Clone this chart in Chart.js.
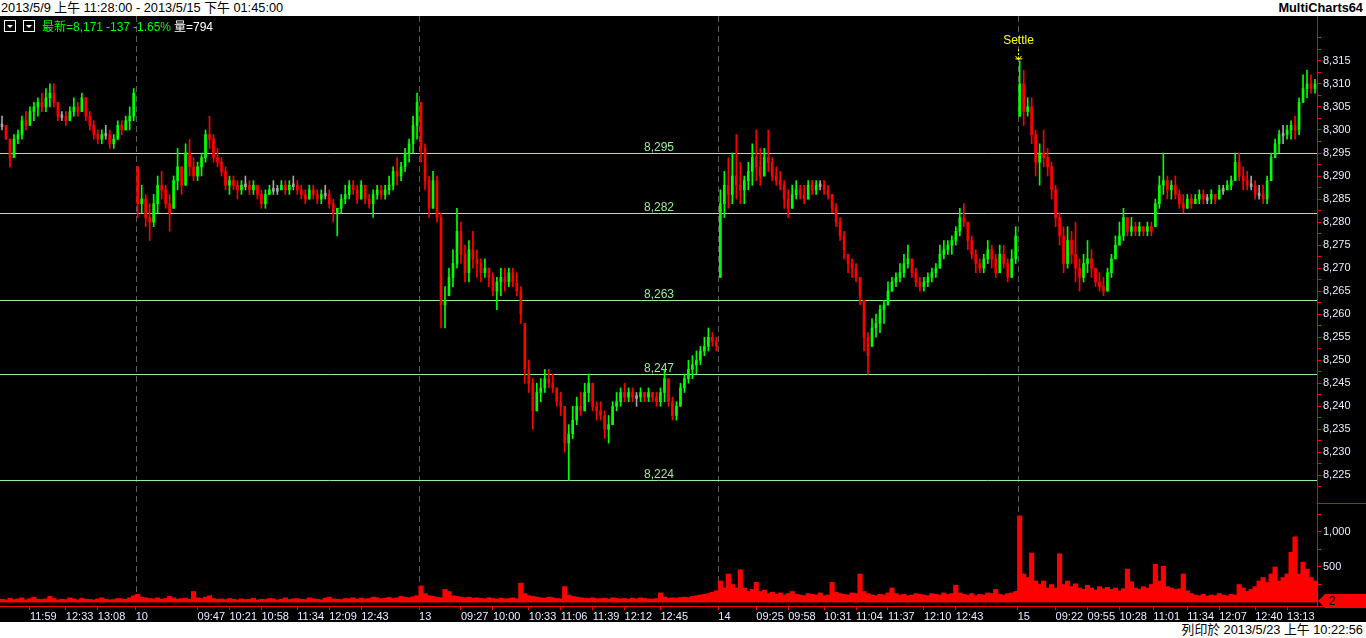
<!DOCTYPE html>
<html>
<head>
<meta charset="utf-8">
<title>MultiCharts64</title>
<script src="https://cdn.jsdelivr.net/npm/chart.js@4.4.1/dist/chart.umd.min.js"></script>
<style>
  html, body { margin: 0; padding: 0; width: 1366px; height: 638px; overflow: hidden; background: #fff;
    font-family: "Liberation Sans", "Noto Sans CJK TC", Arial, sans-serif; }
  #top { position: absolute; left: 0; top: 0; width: 1366px; height: 16px; font-size: 12.8px; line-height: 16px; color: #000; }
  #range { position: absolute; left: 1px; top: 0; white-space: nowrap; }
  #brand { position: absolute; right: 3px; top: 0; font-weight: bold; }
  #wrap { position: absolute; left: 0; top: 16px; width: 1366px; height: 606px; background: #000; }
  #wrap canvas { position: absolute; left: 0; top: 0; }
  .btn { position: absolute; top: 4px; width: 10px; height: 10px; border: 1px solid #fff; }
  .btn:after { content: ""; position: absolute; left: 2px; top: 4px; border-left: 3px solid transparent;
    border-right: 3px solid transparent; border-top: 3px solid #fff; }
  .info { position: absolute; top: 3px; font-size: 12px; line-height: 16px; white-space: nowrap; }
  #foot { position: absolute; right: 3px; top: 622px; font-size: 12.8px; line-height: 16px; color: #000; white-space: nowrap; }
</style>
</head>
<body>
<div id="top">
  <span id="range">2013/5/9 上午 11:28:00 - 2013/5/15 下午 01:45:00</span>
  <span id="brand">MultiCharts64</span>
</div>
<div id="wrap">
  <canvas id="chart" width="1366" height="606"></canvas>
  <div class="btn" style="left:4px"></div>
  <div class="btn" style="left:23px"></div>
  <span class="info" style="left:42px;color:#00ff00">最新=8,171</span>
  <span class="info" style="left:106px;color:#00ff00">-137</span>
  <span class="info" style="left:133px;color:#00ff00">-1.65%</span>
  <span class="info" style="left:174px;color:#fff">量=794</span>
</div>
<div id="foot">列印於 2013/5/23 上午 10:22:56</div>

<script>
// 4-minute bars, May 9 (afternoon) + May 10, 13, 14, 15
const hi = [
  8303,8301,8298,8299,8300,8303,8304,8305,8306,8307,8308,8309,8310,8310,8306,8304,8304,8305,8307,8306,8308,8307,8304,8302,8300,8300,8301,8300,8299,8302,8302,8303,8305,8309,
  8292,8288,8286,8284,8286,8290,8291,8288,8286,8290,8296,8292,8297,8298,8294,8293,8295,8300,8303,8299,8296,8294,8292,8290,8290,8289,8289,8290,8289,8289,8288,8287,8287,8288,8289,8288,8289,8289,8289,8290,8289,8288,8287,8288,8288,8287,8287,8288,8287,8285,8283,8286,8288,8289,8289,8288,8289,8288,8286,8287,8288,8288,8288,8290,8292,8294,8293,8296,8298,8303,8308,
  8306,8297,8290,8291,8290,8282,8266,8270,8274,8283,8280,8275,8276,8278,8274,8272,8272,8270,8269,8268,8270,8270,8270,8270,8269,8266,8258,8250,8246,8245,8246,8248,8248,8247,8244,8243,8240,8236,8240,8242,8243,8245,8247,8245,8241,8241,8239,8238,8241,8243,8244,8245,8244,8244,8243,8244,8243,8244,8243,8243,8244,8248,8246,8242,8241,8245,8247,8250,8251,8252,8253,8255,8257,8256,8255,
  8287,8291,8294,8295,8299,8293,8290,8293,8297,8300,8296,8296,8300,8294,8292,8291,8289,8287,8288,8289,8288,8288,8289,8289,8289,8289,8289,8288,8286,8284,8281,8278,8273,8272,8271,8268,8263,8256,8259,8260,8262,8263,8267,8268,8269,8271,8273,8275,8272,8270,8268,8268,8269,8270,8271,8275,8276,8276,8277,8279,8283,8284,8280,8277,8274,8272,8273,8276,8275,8273,8275,8275,8272,8274,8279,
  8315,8313,8307,8307,8300,8297,8300,8296,8293,8288,8282,8279,8279,8278,8280,8272,8273,8276,8274,8270,8269,8268,8270,8273,8277,8280,8283,8281,8281,8280,8280,8279,8280,8280,8285,8290,8295,8290,8289,8290,8287,8286,8286,8286,8286,8287,8287,8286,8287,8286,8288,8288,8289,8290,8295,8295,8292,8291,8290,8289,8288,8288,8290,8295,8298,8300,8301,8301,8302,8303,8307,8312,8313,8312,8311
];
const lo = [
  8300,8298,8292,8294,8297,8298,8300,8301,8302,8303,8304,8304,8305,8305,8302,8302,8301,8302,8303,8303,8304,8302,8300,8298,8297,8297,8298,8296,8296,8298,8299,8300,8300,8302,
  8281,8282,8279,8276,8279,8282,8285,8283,8278,8283,8287,8286,8288,8290,8289,8289,8290,8293,8296,8293,8292,8290,8287,8286,8287,8285,8286,8287,8286,8286,8285,8283,8283,8286,8286,8286,8287,8286,8286,8287,8286,8285,8284,8285,8285,8284,8284,8285,8283,8280,8277,8282,8284,8285,8286,8284,8285,8284,8283,8281,8285,8285,8285,8286,8287,8288,8289,8291,8293,8295,8298,
  8293,8287,8281,8283,8280,8257,8257,8264,8266,8270,8271,8267,8267,8270,8268,8267,8268,8266,8264,8261,8264,8265,8266,8266,8264,8258,8245,8243,8235,8239,8241,8243,8244,8243,8240,8238,8230,8224,8233,8236,8238,8239,8241,8239,8237,8237,8233,8232,8236,8239,8240,8241,8241,8241,8240,8241,8241,8241,8241,8240,8240,8241,8240,8237,8237,8240,8243,8245,8246,8247,8249,8251,8252,8253,8252,
  8268,8281,8283,8284,8285,8284,8284,8287,8288,8289,8288,8290,8291,8289,8288,8287,8283,8281,8283,8285,8285,8284,8285,8286,8286,8287,8286,8285,8282,8279,8276,8272,8269,8268,8267,8262,8252,8247,8253,8255,8256,8258,8262,8265,8266,8267,8268,8270,8268,8266,8265,8265,8266,8267,8268,8270,8272,8273,8273,8275,8277,8279,8274,8272,8269,8269,8269,8271,8270,8268,8269,8270,8267,8268,8271,
  8303,8301,8303,8297,8290,8288,8292,8290,8285,8279,8275,8269,8270,8271,8267,8265,8267,8269,8268,8266,8265,8264,8265,8268,8272,8275,8276,8277,8277,8277,8277,8277,8277,8277,8279,8283,8286,8285,8285,8285,8283,8282,8283,8283,8284,8284,8284,8284,8284,8284,8285,8286,8287,8287,8289,8289,8287,8287,8287,8285,8285,8284,8284,8289,8294,8295,8297,8298,8298,8298,8299,8306,8307,8308,8308
];
const cl = [
  8301,8298,8294,8298,8299,8302,8301,8304,8305,8306,8305,8307,8308,8306,8303,8303,8302,8304,8305,8304,8307,8303,8301,8299,8298,8299,8299,8297,8298,8301,8300,8302,8303,8308,
  8284,8285,8281,8280,8284,8288,8287,8284,8282,8289,8292,8288,8295,8292,8290,8292,8294,8299,8298,8294,8293,8291,8288,8289,8288,8287,8288,8288,8287,8288,8286,8284,8286,8287,8287,8287,8288,8287,8288,8288,8287,8286,8285,8287,8286,8285,8286,8286,8284,8282,8283,8285,8286,8288,8287,8285,8288,8285,8284,8286,8287,8286,8287,8288,8291,8290,8292,8295,8297,8301,8306,
  8296,8289,8283,8289,8281,8262,8263,8268,8271,8278,8273,8269,8274,8272,8271,8269,8270,8268,8265,8267,8268,8267,8269,8267,8265,8260,8248,8245,8239,8243,8244,8246,8245,8244,8241,8240,8232,8234,8237,8240,8239,8243,8245,8240,8239,8238,8235,8236,8240,8241,8243,8242,8243,8242,8242,8243,8242,8243,8242,8241,8243,8246,8241,8238,8240,8244,8246,8248,8249,8250,8252,8253,8255,8254,8253,
  8284,8288,8286,8290,8288,8287,8289,8291,8294,8292,8290,8294,8293,8290,8289,8288,8285,8283,8286,8287,8286,8285,8288,8287,8288,8288,8287,8286,8283,8280,8277,8274,8271,8270,8268,8264,8255,8251,8257,8258,8261,8262,8265,8267,8268,8269,8271,8272,8269,8267,8266,8267,8268,8269,8270,8273,8274,8275,8276,8278,8281,8280,8276,8273,8271,8270,8272,8274,8272,8269,8273,8271,8268,8272,8277,
  8310,8304,8305,8299,8293,8295,8294,8292,8287,8281,8277,8271,8276,8273,8270,8268,8271,8272,8270,8267,8266,8265,8269,8272,8275,8277,8281,8278,8279,8278,8279,8278,8279,8278,8284,8288,8289,8287,8288,8286,8284,8283,8285,8284,8285,8286,8285,8285,8286,8285,8287,8287,8288,8289,8293,8290,8289,8288,8288,8286,8286,8285,8289,8294,8297,8299,8299,8300,8301,8300,8306,8309,8310,8309,8310
];
const vol = [
  40,30,55,35,45,60,30,50,70,40,35,45,80,50,30,40,35,60,45,30,55,40,35,30,45,60,40,30,35,50,45,40,60,90,
  110,70,60,50,45,60,40,50,80,60,40,50,55,40,150,60,50,70,90,50,40,45,35,50,40,30,45,35,40,55,30,40,35,50,45,30,40,60,35,45,50,40,35,60,45,40,30,55,70,45,40,35,50,45,60,40,55,45,50,70,60,45,55,65,50,60,80,70,60,75,90,
  230,120,90,80,70,60,180,150,90,80,70,60,70,55,60,50,45,60,50,40,55,45,50,60,45,270,120,90,80,70,60,55,70,60,50,45,220,100,80,70,60,55,50,60,45,50,55,40,60,50,45,50,40,55,45,60,50,45,40,50,130,70,55,60,50,65,70,60,80,90,100,110,120,140,160,
  300,200,400,250,200,460,200,150,180,280,150,170,120,140,110,130,100,120,150,110,100,90,120,110,100,130,90,100,280,140,120,110,100,130,120,400,150,120,100,90,110,100,130,200,120,100,110,90,100,120,110,100,90,120,110,100,130,110,120,240,130,110,100,120,90,110,100,130,120,180,110,100,120,130,150,
  1230,400,350,700,300,250,300,200,250,200,690,250,300,220,260,200,180,240,200,170,220,190,210,180,200,160,190,470,290,200,180,220,200,250,540,300,510,220,200,180,190,400,160,120,100,90,110,80,100,90,120,100,90,110,100,250,200,150,180,220,300,350,280,400,500,300,350,400,710,930,400,570,470,350,300
];

// time axis (bar index -> label), day breaks, key levels
const tickBars = [7,16,24,33.5,49,57,65,74,82,90,104.5,115,123,132,140,148,156,165,179.5,189,197,206,214,222,231,239,254.5,264,272,280,288.5,297,305,314,322];
const tickText = ['11:59','12:33','13:08','10','09:47','10:21','10:58','11:34','12:09','12:43','13','09:27','10:00','10:33','11:06','11:39','12:12','12:45','14','09:25','09:58','10:31','11:04','11:37','12:10','12:43','15','09:22','09:55','10:28','11:01','11:34','12:07','12:40','13:13'];
const dayBreaks = [33.5,104.5,179.5,254.5];
const levels = [8295,8282,8263,8247,8224];
const volTicks = [250,500,750,1000,1250];
const settleAt = 254.5;
const lastTag = 2;

const FONT = '"Liberation Sans", Arial, sans-serif';
const UP = '#00ff00', DOWN = '#ff0000', FLAT = '#a6a6a6', RED = '#ff0000', TXT = '#e8ecff';

const idx = cl.map((_, i) => i);
const opens = cl.map((c, i) => {
  const p = i === 0 ? c : cl[i - 1];
  return Math.min(hi[i], Math.max(lo[i], p));
});
const colorOf = i => cl[i] > opens[i] ? UP : (cl[i] < opens[i] ? DOWN : FLAT);

function noPad(s) {
  s.paddingTop = 0; s.paddingBottom = 0; s.paddingLeft = 0; s.paddingRight = 0;
}

const overlay = {
  id: 'overlay',
  beforeDatasetsDraw(chart) {
    const {ctx, chartArea: a, scales: {x, y}} = chart;
    ctx.save();
    // day separators
    ctx.strokeStyle = '#5c5c5c';
    ctx.setLineDash([6, 4]);
    ctx.lineWidth = 1;
    dayBreaks.forEach(d => {
      const px = Math.round(x.getPixelForValue(d)) + 0.5;
      ctx.beginPath(); ctx.moveTo(px, a.top); ctx.lineTo(px, a.bottom); ctx.stroke();
    });
    ctx.setLineDash([]);
    // level lines
    ctx.strokeStyle = '#98ee98';
    ctx.fillStyle = '#98ee98';
    ctx.font = '12px ' + FONT;
    ctx.textAlign = 'center';
    ctx.textBaseline = 'alphabetic';
    levels.forEach(v => {
      const py = Math.round(y.getPixelForValue(v)) + 0.5;
      ctx.beginPath(); ctx.moveTo(a.left, py); ctx.lineTo(a.right, py); ctx.stroke();
      ctx.fillText(v.toLocaleString('en-US'), 659, py - 3);
    });
    ctx.restore();
  },
  afterDraw(chart) {
    const {ctx, chartArea: a, scales: {x, y, yv}} = chart;
    ctx.save();
    // pane separator on the axis side and axis-line extension
    ctx.strokeStyle = RED;
    ctx.lineWidth = 1;
    ctx.beginPath();
    ctx.moveTo(a.right, Math.round(yv.top) + 0.5); ctx.lineTo(chart.width, Math.round(yv.top) + 0.5);
    ctx.moveTo(a.right, Math.round(a.bottom) + 0.5); ctx.lineTo(chart.width, Math.round(a.bottom) + 0.5);
    ctx.stroke();
    // Settle marker
    const sx = Math.round(x.getPixelForValue(settleAt)) + 0.5;
    const tip = y.getPixelForValue(hi[Math.ceil(settleAt)]) - 1;
    ctx.fillStyle = '#ffff00';
    ctx.strokeStyle = '#ffff00';
    ctx.font = '12px ' + FONT;
    ctx.textAlign = 'center';
    ctx.textBaseline = 'middle';
    ctx.fillText('Settle', sx, 25);
    ctx.setLineDash([2, 2]);
    ctx.beginPath(); ctx.moveTo(sx, 33); ctx.lineTo(sx, tip); ctx.stroke();
    ctx.setLineDash([]);
    ctx.beginPath();
    ctx.moveTo(sx - 3, tip - 4); ctx.lineTo(sx, tip); ctx.lineTo(sx + 3, tip - 4);
    ctx.moveTo(sx - 3, tip - 1); ctx.lineTo(sx + 4, tip - 1);
    ctx.stroke();
    // last volume tag
    const ty = Math.round(yv.getPixelForValue(lastTag)) - 1;
    ctx.fillStyle = RED;
    ctx.beginPath();
    ctx.moveTo(a.right + 1, ty); ctx.lineTo(a.right + 8, ty - 7); ctx.lineTo(chart.width, ty - 7);
    ctx.lineTo(chart.width, ty + 7); ctx.lineTo(a.right + 8, ty + 7); ctx.closePath(); ctx.fill();
    ctx.fillStyle = '#000';
    ctx.font = '12px ' + FONT;
    ctx.textAlign = 'left';
    ctx.fillText(String(lastTag), a.right + 12, ty + 1);
    ctx.restore();
  }
};

new Chart(document.getElementById('chart'), {
  type: 'bar',
  data: {
    datasets: [
      {
        label: 'vol', yAxisID: 'yv', order: 3,
        data: idx.map(i => ({x: i, y: vol[i]})),
        backgroundColor: RED, barThickness: 4.5, grouped: false, borderWidth: 0
      },
      {
        label: 'range', yAxisID: 'y', order: 2,
        data: idx.map(i => ({x: i, y: [lo[i], hi[i]]})),
        backgroundColor: idx.map(colorOf), barThickness: 1, grouped: false, borderWidth: 0
      },
      {
        label: 'body', yAxisID: 'y', order: 1,
        data: idx.map(i => ({x: i, y: opens[i] === cl[i] ? [cl[i] - 0.3, cl[i] + 0.3] : [opens[i], cl[i]]})),
        backgroundColor: idx.map(colorOf), barThickness: 2, grouped: false, borderWidth: 0
      }
    ]
  },
  options: {
    responsive: false,
    animation: false,
    devicePixelRatio: 1,
    layout: { padding: 0, autoPadding: false },
    plugins: { legend: { display: false }, tooltip: { enabled: false } },
    scales: {
      x: {
        type: 'linear', min: -0.5, max: 329.5, offset: false,
        afterBuildTicks: s => { s.ticks = tickBars.map(v => ({value: v})); },
        afterFit: s => { s.height = 16; noPad(s); },
        ticks: {
          autoSkip: false, maxRotation: 0, align: 'start', padding: 0, color: TXT,
          font: {size: 11, family: FONT},
          callback: (v, i) => tickText[i]
        },
        grid: { drawOnChartArea: false, drawTicks: true, tickLength: 4, color: RED, offset: false },
        border: { color: RED }
      },
      y: {
        type: 'linear', position: 'right', stack: 'right', stackWeight: 487,
        min: 8219.0, max: 8324.75, beginAtZero: false,
        afterBuildTicks: s => { s.ticks = s.ticks.filter(t => t.value % 2.5 === 0); },
        afterFit: s => { s.width = 49; noPad(s); },
        ticks: {
          stepSize: 2.5, autoSkip: false, padding: 2, color: TXT, font: {size: 11, family: FONT},
          callback: v => (v % 5 === 0 && v <= 8315) ? v.toLocaleString('en-US') : ''
        },
        grid: { drawOnChartArea: false, drawTicks: true, tickLength: 4, color: RED },
        border: { color: RED }
      },
      yv: {
        type: 'linear', position: 'right', stack: 'right', stackWeight: 103,
        min: -57, max: 1414, beginAtZero: false,
        afterBuildTicks: s => { s.ticks = volTicks.map(v => ({value: v})); },
        afterFit: s => { s.width = 49; noPad(s); },
        ticks: {
          autoSkip: false, padding: 2, color: TXT, font: {size: 11, family: FONT},
          callback: v => (v % 500 === 0) ? v.toLocaleString('en-US') : ''
        },
        grid: { drawOnChartArea: false, drawTicks: true, tickLength: 4, color: RED },
        border: { color: RED }
      }
    }
  },
  plugins: [overlay]
});
</script>
</body>
</html>
